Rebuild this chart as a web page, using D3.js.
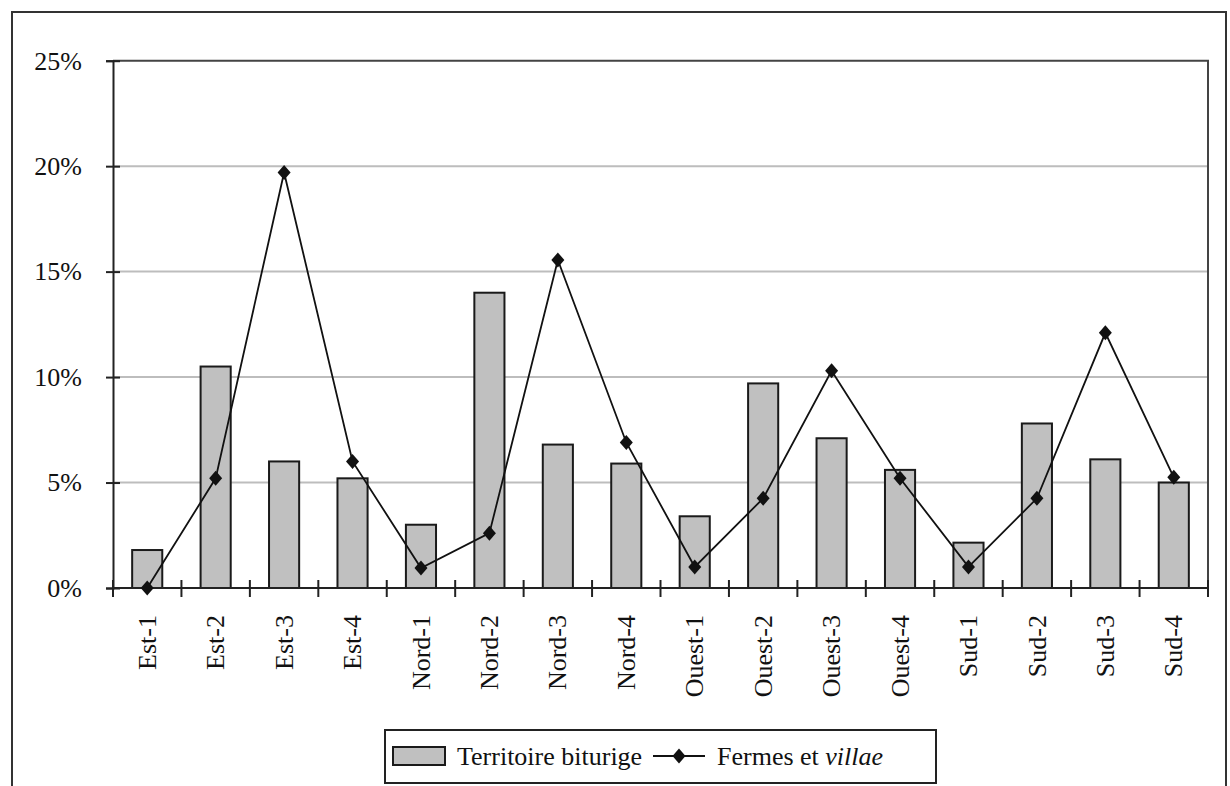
<!DOCTYPE html>
<html><head><meta charset="utf-8">
<script src="https://cdn.jsdelivr.net/npm/d3@7"></script>
<style>
html,body{margin:0;padding:0;background:#fff;}
svg{display:block;}
text{font-family:"Liberation Serif","Times New Roman",serif;fill:#111;}
</style></head>
<body>
<svg id="chart" width="1230" height="786"></svg>
<script>
const categories = ["Est-1","Est-2","Est-3","Est-4","Nord-1","Nord-2","Nord-3","Nord-4","Ouest-1","Ouest-2","Ouest-3","Ouest-4","Sud-1","Sud-2","Sud-3","Sud-4"];
const territoire = [1.8,10.5,6.0,5.2,3.0,14.0,6.8,5.9,3.4,9.7,7.1,5.6,2.15,7.8,6.1,5.0];
const fermes = [0.0,5.2,19.7,6.0,0.95,2.6,15.55,6.9,1.0,4.25,10.3,5.2,1.0,4.25,12.1,5.25];
const yTicks = [0,5,10,15,20,25];
const seriesNames = ["Territoire biturige","Fermes et ","villae"];

const svg = d3.select("#chart");
const pLeft = 113, pRight = 1208, pTop = 60.7, pBottom = 588;

// outer frame
svg.append("rect").attr("x",12).attr("y",12).attr("width",1214).attr("height",800)
  .attr("fill","#fff").attr("stroke","#333").attr("stroke-width",2);

const x = d3.scaleBand().domain(categories).range([pLeft,pRight]).padding(0);
const y = d3.scaleLinear().domain([0,25]).range([pBottom,pTop]);

// gridlines
svg.append("g").selectAll("line").data(yTicks.filter(d=>d>0 && d<25)).join("line")
  .attr("x1",pLeft).attr("x2",pRight).attr("y1",d=>y(d)).attr("y2",d=>y(d))
  .attr("stroke","#bdbdbd").attr("stroke-width",2);

// plot border top & right
svg.append("path").attr("d",`M${pLeft},${y(25)}H${pRight}V${pBottom}`)
  .attr("fill","none").attr("stroke","#444").attr("stroke-width",2);

// bars
const bw = x.bandwidth()*0.44;
svg.append("g").selectAll("rect").data(categories).join("rect")
  .attr("x",(c)=>x(c)+x.bandwidth()/2-bw/2)
  .attr("y",(c,i)=>y(territoire[i]))
  .attr("width",bw)
  .attr("height",(c,i)=>pBottom-y(territoire[i]))
  .attr("fill","#c0c0c0").attr("stroke","#1a1a1a").attr("stroke-width",2);

// y axis
const yAxis = svg.append("g").attr("transform",`translate(${pLeft},0)`)
  .call(d3.axisLeft(y).tickValues(yTicks).tickFormat(d=>d+"%").tickSize(7).tickPadding(24));
yAxis.select(".domain").attr("stroke","#222").attr("stroke-width",2);
yAxis.selectAll(".tick line").attr("x2",7).attr("x1",-7).attr("stroke","#222").attr("stroke-width",2);
yAxis.selectAll("text").style("font-size","26px").attr("dy","0.32em").attr("fill","#111");

// x axis
const xAxis = svg.append("g").attr("transform",`translate(0,${pBottom})`)
  .call(d3.axisBottom(x).tickSize(0).tickPadding(0));
xAxis.select(".domain").attr("stroke","#222").attr("stroke-width",2).attr("d",`M${pLeft},0H${pRight}`);
xAxis.selectAll("text").style("font-size","26px")
  .attr("transform","rotate(-90)").attr("text-anchor","end")
  .attr("x",-27).attr("y",0).attr("dy","0.33em").attr("fill","#111");
// x tick marks at band edges
const edges = categories.map(c=>x(c)).concat([pRight]);
svg.append("g").selectAll("line").data(edges).join("line")
  .attr("x1",d=>d).attr("x2",d=>d).attr("y1",pBottom-8).attr("y2",pBottom+9)
  .attr("stroke","#222").attr("stroke-width",2);

// line series
const cx = c=>x(c)+x.bandwidth()/2;
const line = d3.line().x((d,i)=>cx(categories[i])).y(d=>y(d));
svg.append("path").datum(fermes).attr("d",line)
  .attr("fill","none").attr("stroke","#111").attr("stroke-width",1.8);
const diamond = "M0,-7.5L6.5,0L0,7.5L-6.5,0Z";
svg.append("g").selectAll("path").data(fermes).join("path")
  .attr("d",diamond)
  .attr("transform",(d,i)=>`translate(${cx(categories[i])},${y(d)})`)
  .attr("fill","#111");

// legend
const lg = svg.append("g");
lg.append("rect").attr("x",385).attr("y",730).attr("width",551).attr("height",53)
  .attr("fill","#fff").attr("stroke","#222").attr("stroke-width",2);
lg.append("rect").attr("x",393).attr("y",747).attr("width",52).attr("height",18)
  .attr("fill","#c0c0c0").attr("stroke","#1a1a1a").attr("stroke-width",2);
lg.append("text").attr("x",457).attr("y",765).style("font-size","26px").text(seriesNames[0]);
lg.append("line").attr("x1",653).attr("x2",705).attr("y1",756).attr("y2",756)
  .attr("stroke","#111").attr("stroke-width",1.8);
lg.append("path").attr("d",diamond).attr("transform","translate(679,756)").attr("fill","#111");
const t2 = lg.append("text").attr("x",717).attr("y",765).style("font-size","26px");
t2.append("tspan").text(seriesNames[1]);
t2.append("tspan").style("font-style","italic").text(seriesNames[2]);
</script>
</body></html>
